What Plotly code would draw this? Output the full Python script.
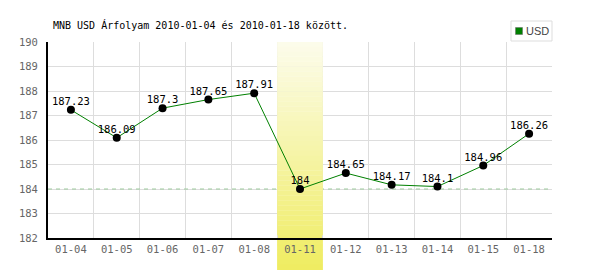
import plotly.graph_objects as go

categories = ["01-04", "01-05", "01-06", "01-07", "01-08", "01-11",
              "01-12", "01-13", "01-14", "01-15", "01-18"]
usd_values = [187.23, 186.09, 187.3, 187.65, 187.91, 184,
              184.65, 184.17, 184.1, 184.96, 186.26]
value_labels = ["187.23", "186.09", "187.3", "187.65", "187.91", "184",
                "184.65", "184.17", "184.1", "184.96", "186.26"]
highlight_category = "01-11"
reference_level = 184
y_ticks = [182, 183, 184, 185, 186, 187, 188, 189, 190]
title_text = "MNB USD Árfolyam 2010-01-04 és 2010-01-18 között."
series_name = "USD"

MONO = "DejaVu Sans Mono"
W, H = 600, 270
L, R, T, B = 48, 48, 42, 32
plot_h = H - T - B
pw = W - L - R
Y0, Y1 = 182, 190

xs = list(range(len(categories)))
n = len(categories)

fig = go.Figure()
fig.add_trace(go.Scatter(
    x=xs, y=usd_values, mode="lines+markers",
    line=dict(color="#008000", width=1),
    marker=dict(color="#000000", size=8),
    showlegend=False, hoverinfo="skip",
))
fig.add_trace(go.Scatter(
    x=xs, y=usd_values, mode="markers+text",
    text=value_labels, textposition="top center",
    textfont=dict(family=MONO, size=10.5, color="#000000"),
    marker=dict(color="rgba(0,0,0,0)", size=2),
    showlegend=False, cliponaxis=False, hoverinfo="skip",
))

shapes = []
# reference dashed line
shapes.append(dict(type="line", xref="x", yref="y", x0=-0.5, x1=n - 0.5,
                   y0=reference_level, y1=reference_level,
                   line=dict(color="#9cca9c", width=1, dash="4px,4px"),
                   layer="between"))

# highlight band with vertical gradient (strips)
hi = categories.index(highlight_category)
c_top = (252, 252, 236)
c_bot = (239, 236, 96)
extra = B / plot_h * (Y1 - Y0)   # data units covered by bottom margin
total = (Y1 - Y0) + extra
steps = 46
for i in range(steps):
    f = (i + 0.5) / steps
    col = "rgb(%d,%d,%d)" % tuple(int(round(c_top[k] + (c_bot[k] - c_top[k]) * f)) for k in range(3))
    ya = Y1 - total * i / steps
    yb = Y1 - total * (i + 1) / steps
    if yb >= Y0:
        shapes.append(dict(type="rect", xref="x", yref="y",
                           x0=hi - 0.5, x1=hi + 0.5, y0=yb, y1=ya + 0.01,
                           fillcolor=col, line=dict(width=0), layer="between"))
    else:
        pa = (ya - Y0) / (Y1 - Y0)
        pb = (yb - Y0) / (Y1 - Y0)
        shapes.append(dict(type="rect", xref="paper", yref="paper",
                           x0=hi / n, x1=(hi + 1) / n, y0=pb, y1=pa + 0.002,
                           fillcolor=col, line=dict(width=0), layer="below"))

# manual legend box
lx0 = (511 - L) / pw
lx1 = (552 - L) / pw
ly1 = (H - B - 21) / plot_h
ly0 = (H - B - 41) / plot_h
shapes.append(dict(type="rect", xref="paper", yref="paper",
                   x0=lx0, x1=lx1, y0=ly0, y1=ly1,
                   fillcolor="#ffffff", line=dict(color="#dddddd", width=1)))
sx0 = (515.5 - L) / pw
sx1 = (522.5 - L) / pw
sy1 = (H - B - 27.5) / plot_h
sy0 = (H - B - 34.5) / plot_h
shapes.append(dict(type="rect", xref="paper", yref="paper",
                   x0=sx0, x1=sx1, y0=sy0, y1=sy1,
                   fillcolor="#008000", line=dict(color="#666666", width=0.5)))

annotations = [dict(text=series_name, xref="paper", yref="paper",
                    x=(524 - L) / pw, y=(H - B - 31) / plot_h,
                    xanchor="left", yanchor="middle", showarrow=False,
                    font=dict(family="Liberation Sans", size=11, color="#444444"))]

fig.update_layout(
    width=W, height=H,
    margin=dict(l=L, r=R, t=T, b=B, pad=0),
    paper_bgcolor="#ffffff", plot_bgcolor="#ffffff",
    title=dict(text=title_text, xref="container", yref="container",
               x=53 / W, xanchor="left", y=1 - 25 / H, yanchor="middle",
               font=dict(family=MONO, size=10, color="#000000")),
    shapes=shapes, annotations=annotations,
    showlegend=False,
    xaxis=dict(range=[-0.5, n - 0.5], tickmode="array", tickvals=xs,
               ticktext=categories, showgrid=False, zeroline=False,
               showline=True, linecolor="#000000", linewidth=2,
               ticks="", ticklen=0,
               tickfont=dict(family=MONO, size=10.5, color="#666666"),
               minor=dict(tickmode="array",
                          tickvals=[i + 0.5 for i in range(n)],
                          showgrid=True, gridcolor="#dddddd", gridwidth=1,
                          ticks="")),
    yaxis=dict(range=[Y0, Y1], tickmode="array", tickvals=y_ticks,
               showgrid=True, gridcolor="#dddddd", gridwidth=1,
               zeroline=False, showline=True, linecolor="#000000",
               linewidth=2, ticks="", ticklabelstandoff=6,
               tickfont=dict(family=MONO, size=10.5, color="#666666")),
)

fig.write_html("out.html")
